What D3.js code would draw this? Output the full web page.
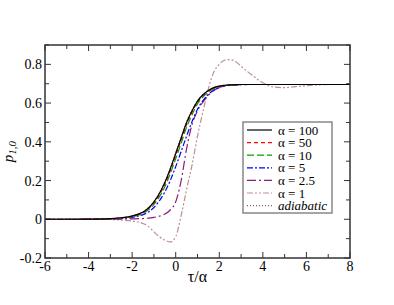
<!DOCTYPE html>
<html>
<head>
<meta charset="utf-8">
<script src="https://cdn.jsdelivr.net/npm/d3@7"></script>
<style>
body { margin: 0; background: white; }
</style>
</head>
<body>
<script>
// tau/alpha grid shared by every curve
var tau = [-6, -5, -4, -3, -2.5, -2, -1.5, -1.25, -1, -0.75, -0.5, -0.25, 0, 0.25, 0.5, 0.75,
           1, 1.25, 1.5, 1.75, 2, 2.25, 2.5, 2.75, 3, 3.5, 4, 4.5, 5, 5.5, 6, 6.5, 7, 8];

var p100 = [0, 0, 0.0005, 0.003, 0.008, 0.017, 0.037, 0.058, 0.09, 0.133, 0.19, 0.26, 0.34, 0.42, 0.50, 0.56,
            0.61, 0.643, 0.665, 0.68, 0.688, 0.692, 0.694, 0.695, 0.696, 0.696, 0.696, 0.696, 0.696, 0.696, 0.696, 0.696, 0.696, 0.696];
var p50 = [0, 0, 0.0005, 0.003, 0.007, 0.016, 0.035, 0.055, 0.085, 0.126, 0.181, 0.25, 0.33, 0.41, 0.49, 0.553,
           0.605, 0.639, 0.662, 0.678, 0.687, 0.692, 0.694, 0.695, 0.696, 0.696, 0.696, 0.696, 0.696, 0.696, 0.696, 0.696, 0.696, 0.696];
var p10 = [0, 0, 0.0004, 0.002, 0.006, 0.013, 0.031, 0.049, 0.077, 0.116, 0.168, 0.235, 0.313, 0.393, 0.475, 0.54,
           0.596, 0.632, 0.657, 0.675, 0.686, 0.691, 0.693, 0.695, 0.696, 0.696, 0.696, 0.696, 0.696, 0.696, 0.696, 0.696, 0.696, 0.696];
var p5 = [0, 0, 0.0003, 0.0015, 0.004, 0.01, 0.024, 0.038, 0.061, 0.095, 0.141, 0.20, 0.272, 0.35, 0.43, 0.505,
          0.568, 0.613, 0.645, 0.667, 0.681, 0.689, 0.692, 0.694, 0.695, 0.696, 0.696, 0.696, 0.696, 0.696, 0.696, 0.696, 0.696, 0.696];
var p25 = [0, 0, 0, 0, 0.001, 0.002, 0.004, 0.006, 0.01, 0.016, 0.027, 0.048, 0.09, 0.20, 0.365, 0.49,
           0.56, 0.605, 0.64, 0.665, 0.68, 0.687, 0.692, 0.694, 0.696, 0.696, 0.696, 0.696, 0.696, 0.696, 0.696, 0.696, 0.696, 0.696];
var p1 = [0, 0, 0, -0.001, -0.004, -0.009, -0.022, -0.038, -0.065, -0.09, -0.108, -0.117, -0.09, 0.02, 0.155, 0.28,
          0.43, 0.555, 0.675, 0.76, 0.80, 0.822, 0.824, 0.815, 0.79, 0.745, 0.705, 0.683, 0.68, 0.685, 0.69, 0.694, 0.696, 0.696];
var pAd = [0, 0, 0.0005, 0.003, 0.008, 0.018, 0.038, 0.06, 0.092, 0.136, 0.193, 0.264, 0.344, 0.424, 0.503, 0.563,
           0.612, 0.644, 0.666, 0.681, 0.688, 0.692, 0.694, 0.695, 0.696, 0.696, 0.696, 0.696, 0.696, 0.696, 0.696, 0.696, 0.696, 0.696];

var labels = ["\u03b1 = 100", "\u03b1 = 50", "\u03b1 = 10", "\u03b1 = 5", "\u03b1 = 2.5", "\u03b1 = 1", "adiabatic"];
var series = [p100, p50, p10, p5, p25, p1, pAd];
var colors = ["#000000", "#ff0000", "#00a000", "#0000ff", "#8b1c7a", "#bc8f8f", "#666666"];
var dashes = ["none", "4,3", "7,3", "6,2,2,2", "9,3,2,3", "6,2,2,2,2,2", "1,2"];

var xTicks = [-6, -4, -2, 0, 2, 4, 6, 8];
var yTicks = [-0.2, 0, 0.2, 0.4, 0.6, 0.8];

var w = 394;
var h = 305;
var pl = 45, pr = 350, pt = 45, pb = 258;

var svg = d3.select("body").append("svg")
    .attr("width", w)
    .attr("height", h)
    .attr("font-family", "'Liberation Serif', 'Times New Roman', serif");

var x = d3.scaleLinear().domain([-6, 8]).range([pl, pr]);
var y = d3.scaleLinear().domain([-0.2, 0.9]).range([pb, pt]);

// ticks, all pointing inward, on all four sides
var xMinor = d3.range(-6, 8.01, 1);
var yMinor = d3.range(-0.2, 0.91, 0.1);

svg.append("g").selectAll("line").data(xMinor).join("line")
    .attr("x1", d => x(d)).attr("x2", d => x(d))
    .attr("y1", pb).attr("y2", d => pb - (xTicks.indexOf(d) >= 0 ? 6 : 4))
    .attr("stroke", "#333").attr("stroke-width", 1);
svg.append("g").selectAll("line").data(xMinor).join("line")
    .attr("x1", d => x(d)).attr("x2", d => x(d))
    .attr("y1", pt).attr("y2", d => pt + (xTicks.indexOf(d) >= 0 ? 6 : 4))
    .attr("stroke", "#333").attr("stroke-width", 1);
svg.append("g").selectAll("line").data(yMinor).join("line")
    .attr("y1", d => y(d)).attr("y2", d => y(d))
    .attr("x1", pl).attr("x2", (d, i) => pl + (i % 2 == 0 ? 6 : 4))
    .attr("stroke", "#333").attr("stroke-width", 1);
svg.append("g").selectAll("line").data(yMinor).join("line")
    .attr("y1", d => y(d)).attr("y2", d => y(d))
    .attr("x1", pr).attr("x2", (d, i) => pr - (i % 2 == 0 ? 6 : 4))
    .attr("stroke", "#333").attr("stroke-width", 1);

// tick labels
svg.append("g").selectAll("text").data(xTicks).join("text")
    .attr("x", d => x(d)).attr("y", 271)
    .attr("text-anchor", "middle")
    .attr("font-size", 14)
    .text(d => d);
svg.append("g").selectAll("text").data(yTicks).join("text")
    .attr("x", pl - 3).attr("y", d => y(d) + 5)
    .attr("text-anchor", "end")
    .attr("font-size", 14)
    .text(d => d);

// axis titles
svg.append("text")
    .attr("x", (pl + pr) / 2).attr("y", 282)
    .attr("text-anchor", "middle")
    .attr("font-size", 16)
    .text("\u03c4/\u03b1");

var yl = svg.append("text")
    .attr("transform", "translate(13," + ((pt + pb) / 2) + ") rotate(-90)")
    .attr("text-anchor", "middle")
    .attr("font-size", 15)
    .attr("font-style", "italic");
yl.append("tspan").text("p");
yl.append("tspan").attr("font-size", 11).attr("dy", 3).text("1,0");

// curves
svg.append("clipPath").attr("id", "clip")
    .append("rect").attr("x", pl).attr("y", pt)
    .attr("width", pr - pl).attr("height", pb - pt);

var line = d3.line()
    .x((d, i) => x(tau[i]))
    .y(d => y(d))
    .curve(d3.curveMonotoneX);

// draw back to front so the black line sits on top
for (var k = series.length - 1; k >= 0; k--) {
    svg.append("path")
        .attr("d", line(series[k]))
        .attr("fill", "none")
        .attr("stroke", colors[k])
        .attr("stroke-width", 1.2)
        .attr("stroke-dasharray", dashes[k])
        .attr("clip-path", "url(#clip)");
}

// frame
svg.append("rect")
    .attr("x", pl).attr("y", pt)
    .attr("width", pr - pl).attr("height", pb - pt)
    .attr("fill", "none")
    .attr("stroke", "#333")
    .attr("stroke-width", 1.5);

// legend
svg.append("rect")
    .attr("x", 243).attr("y", 122)
    .attr("width", 89).attr("height", 91)
    .attr("fill", "white")
    .attr("stroke", "#888")
    .attr("stroke-width", 1.5);

var rows = svg.append("g").selectAll("g").data(labels).join("g")
    .attr("transform", (d, i) => "translate(0," + (130 + i * 12.6) + ")");
rows.append("line")
    .attr("x1", 247).attr("x2", 272)
    .attr("y1", 0).attr("y2", 0)
    .attr("stroke", (d, i) => colors[i])
    .attr("stroke-width", 1.2)
    .attr("stroke-dasharray", (d, i) => dashes[i]);
rows.append("text")
    .attr("x", 278).attr("y", 4.5)
    .attr("font-size", 13)
    .attr("font-style", (d, i) => i == 6 ? "italic" : "normal")
    .text(d => d);
</script>
</body>
</html>
